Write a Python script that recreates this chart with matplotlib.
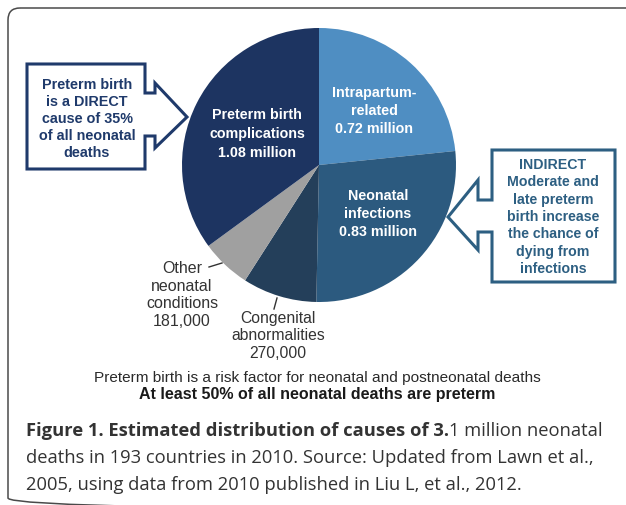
import matplotlib.pyplot as plt
from matplotlib.patches import Polygon, FancyBboxPatch

# Causes of neonatal deaths, 2010 (millions), clockwise from the top
causes = ["Intrapartum-related", "Neonatal infections", "Congenital abnormalities",
          "Other neonatal conditions", "Preterm birth complications"]
deaths = [0.72, 0.83, 0.27, 0.181, 1.08]
colors = ["#4f8ec2", "#2c5a7f", "#243f5a", "#a0a0a0", "#1d3461"]

slice_labels = ["Intrapartum-\nrelated\n0.72 million",
                "Neonatal\ninfections\n0.83 million",
                "Congenital\nabnormalities\n270,000",
                "Other\nneonatal\nconditions\n181,000",
                "Preterm birth\ncomplications\n1.08 million"]

W, H = 626, 505
fig = plt.figure(figsize=(W / 100, H / 100), dpi=100)
ax = fig.add_axes([0, 0, 1, 1])

# pixel coordinates, y pointing down -> start at -90 and go "counterclock"
ax.pie(deaths, colors=colors, startangle=-90, counterclock=True,
       center=(319, 165), radius=137, wedgeprops=dict(linewidth=0))
ax.set_xlim(0, W)
ax.set_ylim(H, 0)
ax.set_aspect("auto")
ax.axis("off")

font = "Liberation Sans"

# slice labels inside the pie
ax.text(257, 134, slice_labels[4], color="white", fontsize=10.3, fontweight="bold",
        ha="center", va="center", family=font, linespacing=1.45)
ax.text(374, 111, slice_labels[0], color="white", fontsize=10.3, fontweight="bold",
        ha="center", va="center", family=font, linespacing=1.4)
ax.text(378, 214, slice_labels[1], color="white", fontsize=10.3, fontweight="bold",
        ha="center", va="center", family=font, linespacing=1.4)

# labels outside the pie with leader lines
ax.text(182, 295, slice_labels[3], color="#333333", fontsize=11.5, ha="center", va="center",
        family=font, linespacing=1.22)
ax.plot([209, 222], [267, 263], color="#333333", lw=1)
ax.text(278, 336, slice_labels[2], color="#333333", fontsize=11.3, ha="center", va="center",
        family=font, linespacing=1.22)
ax.plot([277, 274], [298, 309], color="#333333", lw=1)

# callout arrows
left_box = [(27, 64), (145, 64), (145, 93), (155, 93), (155, 83), (187, 117),
            (155, 148), (155, 136), (145, 136), (145, 169), (27, 169)]
ax.add_patch(Polygon(left_box, closed=True, facecolor="white", edgecolor="#1f3a6b",
                     lw=2.2, joinstyle="miter"))
ax.text(87, 119, "Preterm birth\nis a DIRECT\ncause of 35%\nof all neonatal\ndeaths",
        color="#1f3a6b", fontsize=10.4, fontweight="bold", ha="center", va="center",
        family=font, linespacing=1.28)

right_box = [(492, 150), (615, 150), (615, 282), (492, 282), (492, 232), (478, 232),
             (478, 250), (448, 217), (478, 180), (478, 200), (492, 200)]
ax.add_patch(Polygon(right_box, closed=True, facecolor="white", edgecolor="#2d5f82",
                     lw=2.2, joinstyle="miter"))
ax.text(553, 217, "INDIRECT\nModerate and\nlate preterm\nbirth increase\nthe chance of\ndying from\ninfections",
        color="#2d5f82", fontsize=10.2, fontweight="bold", ha="center", va="center",
        family=font, linespacing=1.3)

# notes under the pie
ax.text(317, 378, "Preterm birth is a risk factor for neonatal and postneonatal deaths",
        color="#2a2a2a", fontsize=11.1, ha="center", va="center", family=font)
ax.text(317, 395, "At least 50% of all neonatal deaths are preterm",
        color="#1a1a1a", fontsize=11.5, fontweight="bold", ha="center", va="center", family=font)

# outer rounded frame (right and bottom edges run off the picture)
ax.add_patch(FancyBboxPatch((8, 8), 640, 502, boxstyle="round,pad=0,rounding_size=12",
                            facecolor="none", edgecolor="#4a4a4a", lw=1.1))

# caption
cap_font = "Open Sans"
cap_size = 13.2
t1 = ax.text(26, 436, "Figure 1. Estimated distribution of causes of 3.", color="#333333",
             fontsize=cap_size, fontweight="bold", ha="left", va="baseline", family=cap_font)
fig.canvas.draw()
bb = t1.get_window_extent(fig.canvas.get_renderer())
ax.text(26 + bb.width, 436, "1 million neonatal", color="#333333", fontsize=cap_size,
        ha="left", va="baseline", family=cap_font)
ax.text(26, 463, "deaths in 193 countries in 2010. Source: Updated from Lawn et al.,",
        color="#333333", fontsize=cap_size, ha="left", va="baseline", family=cap_font)
ax.text(26, 490, "2005, using data from 2010 published in Liu L, et al., 2012.",
        color="#333333", fontsize=cap_size, ha="left", va="baseline", family=cap_font)

fig.savefig("out.png", dpi=100)
